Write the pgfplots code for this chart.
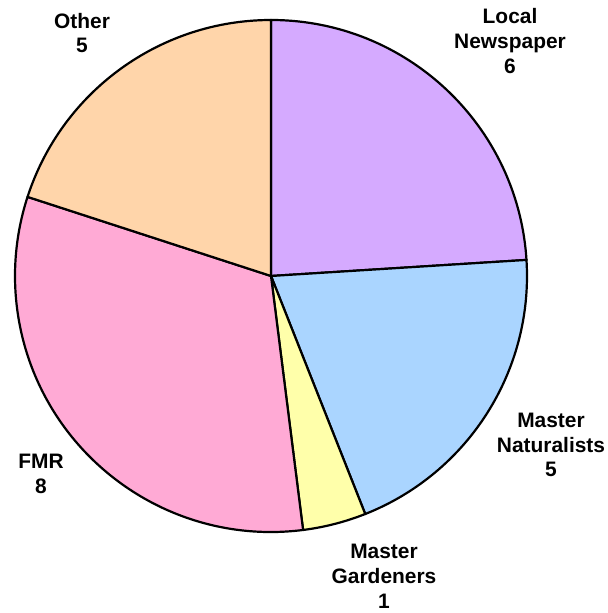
\documentclass[border=0pt]{standalone}
\usepackage{fontspec}
\setmainfont{Liberation Sans}
\usepackage{pgfplots}
\usepackage{pgfplotstable}
\pgfplotsset{compat=1.18}
\definecolor{cLN}{RGB}{213,170,255}
\definecolor{cMN}{RGB}{170,213,255}
\definecolor{cMG}{RGB}{255,255,170}
\definecolor{cFMR}{RGB}{255,170,213}
\definecolor{cOther}{RGB}{255,213,170}
\pgfplotstableread{
value color
6 cLN
5 cMN
1 cMG
8 cFMR
5 cOther
}\piedata
\begin{document}
\begin{tikzpicture}
\begin{axis}[
  width=608bp, height=613bp, scale only axis,
  xmin=0, xmax=608, ymin=0, ymax=613,
  hide axis, clip=false,
]
\path[use as bounding box] (axis cs:0,0) rectangle (axis cs:608,613);
\def\startang{90}
\def\total{25}
\pgfplotsforeachungrouped \i in {0,...,4}{%
  \pgfplotstablegetelem{\i}{value}\of\piedata \let\val=\pgfplotsretval
  \pgfplotstablegetelem{\i}{color}\of\piedata \let\col=\pgfplotsretval
  \pgfmathsetmacro{\endang}{\startang - 360*\val/\total}%
  \edef\temp{\noexpand\filldraw[fill=\col, draw=black, line width=2.2bp, line join=round] (axis cs:271,337) -- ++(\startang:256bp) arc[start angle=\startang, end angle=\endang, radius=256bp] -- cycle;}%
  \temp
  \global\let\startang\endang
}
\tikzset{lbl/.style={font=\fontsize{21}{25}\selectfont\bfseries, align=center, inner sep=0pt}}
\node[lbl] at (axis cs:82,580) {Other\\5};
\node[lbl] at (axis cs:510,572) {Local\\Newspaper\\6};
\node[lbl] at (axis cs:551,168) {Master\\Naturalists\\5};
\node[lbl] at (axis cs:384,37) {Master\\Gardeners\\1};
\node[lbl] at (axis cs:41,139.5) {FMR\\8};
\end{axis}
\end{tikzpicture}
\end{document}
